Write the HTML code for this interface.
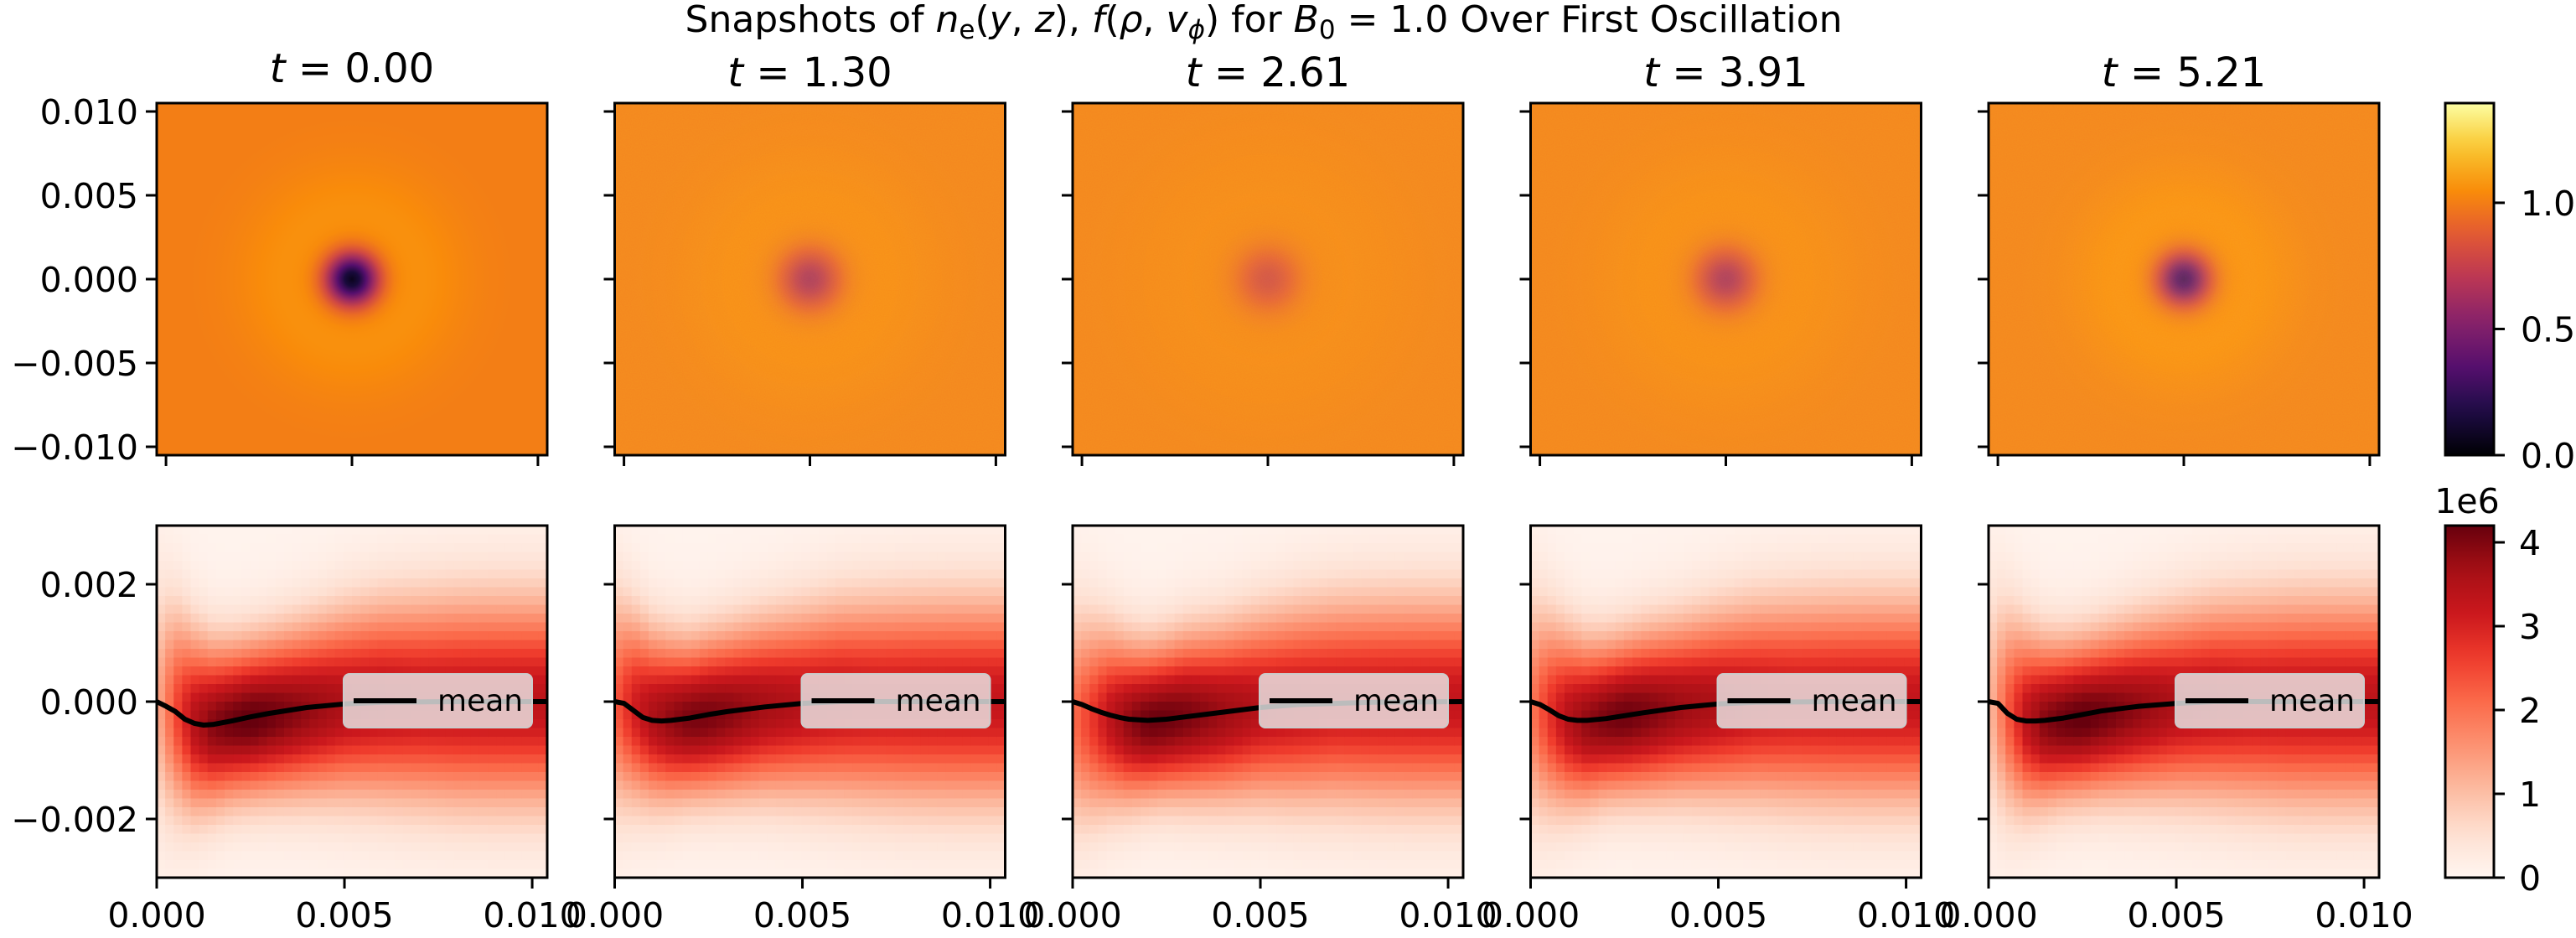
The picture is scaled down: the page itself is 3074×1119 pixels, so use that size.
<!DOCTYPE html>
<html><head><meta charset="utf-8"><style>
html,body{margin:0;padding:0;background:#fff;}
svg{display:block;font-family:"DejaVu Sans","Liberation Sans",sans-serif;}
</style></head><body>
<svg id="fig" width="3074" height="1119" viewBox="0 0 3074 1119" xmlns="http://www.w3.org/2000/svg">
<defs id="defs"></defs>
<text x="1508" y="38" font-size="44" text-anchor="middle">Snapshots of <tspan font-style="italic">n</tspan><tspan font-size="31" dy="8">e</tspan><tspan dy="-8">(</tspan><tspan font-style="italic">y</tspan>, <tspan font-style="italic">z</tspan>), <tspan font-style="italic">f</tspan>(<tspan font-style="italic">ρ</tspan>, <tspan font-style="italic">v</tspan><tspan font-size="31" dy="8" font-style="italic">ϕ</tspan><tspan dy="-8">) for </tspan><tspan font-style="italic">B</tspan><tspan font-size="31" dy="8">0</tspan><tspan dy="-8"> = 1.0 Over First Oscillation</tspan></text>
<g id="plots"></g>
</svg>
<script>
// ---- data ----
const times = ["0.00", "1.30", "2.61", "3.91", "5.21"];
// top row: density dip at center (value of n_e at center) and radius (m)
const dipMin = [0.05, 0.62, 0.78, 0.62, 0.28];
const dipRadius = [0.0013, 0.0015, 0.0016, 0.0015, 0.0013];
const haloPeak = [1.06, 1.03, 1.02, 1.03, 1.05];
// bottom row: columns in rho (units 1e-3)
const colX = [0, 0.5, 1, 1.5, 2, 2.5, 3, 4, 5, 6, 7, 8, 9, 10.4];
const peak = [
  [1.1, 2.4, 3.4, 3.9, 4.1, 4.2, 4.1, 3.8, 3.5, 3.4, 3.3, 3.3, 3.3, 3.3],
  [2.2, 3.0, 3.5, 3.8, 4.0, 4.0, 3.9, 3.6, 3.4, 3.3, 3.2, 3.2, 3.2, 3.2],
  [2.0, 2.6, 3.3, 3.8, 4.1, 4.1, 4.0, 3.7, 3.4, 3.3, 3.2, 3.2, 3.2, 3.2],
  [1.8, 2.7, 3.4, 3.8, 4.0, 4.1, 4.0, 3.7, 3.5, 3.3, 3.2, 3.2, 3.2, 3.2],
  [0.9, 2.2, 3.3, 3.9, 4.1, 4.2, 4.1, 3.8, 3.5, 3.4, 3.3, 3.3, 3.3, 3.3]
];
const center = [
  [0, -0.15, -0.35, -0.4, -0.35, -0.3, -0.25, -0.15, -0.05, 0, 0, 0, 0, 0],
  [0, -0.1, -0.25, -0.3, -0.3, -0.25, -0.2, -0.1, -0.05, 0, 0, 0, 0, 0],
  [-0.3, -0.3, -0.3, -0.35, -0.35, -0.3, -0.25, -0.2, -0.1, -0.05, 0, 0, 0, 0],
  [-0.1, -0.2, -0.3, -0.35, -0.3, -0.25, -0.2, -0.12, -0.05, 0, 0, 0, 0, 0],
  [0, -0.15, -0.3, -0.35, -0.32, -0.28, -0.22, -0.12, -0.05, 0, 0, 0, 0, 0]
];
const sigma = [
  [1.3, 1.15, 1.0, 0.9, 0.86, 0.86, 0.88, 0.94, 1.02, 1.08, 1.12, 1.15, 1.16, 1.16],
  [1.2, 1.05, 0.95, 0.9, 0.86, 0.88, 0.9, 0.96, 1.02, 1.08, 1.12, 1.14, 1.15, 1.15],
  [1.2, 1.1, 0.98, 0.9, 0.85, 0.86, 0.9, 0.95, 1.02, 1.08, 1.12, 1.14, 1.15, 1.15],
  [1.25, 1.1, 0.98, 0.9, 0.86, 0.87, 0.9, 0.95, 1.02, 1.08, 1.12, 1.14, 1.15, 1.15],
  [1.3, 1.15, 1.0, 0.9, 0.86, 0.86, 0.88, 0.95, 1.02, 1.08, 1.12, 1.15, 1.16, 1.16]
];
// mean curve (x and y in units 1e-3)
const meanX = [0, 0.25, 0.5, 0.75, 1, 1.25, 1.5, 2, 2.5, 3, 4, 5, 6, 8, 10.4];
const meanY = [
  [0, -0.08, -0.17, -0.3, -0.37, -0.4, -0.39, -0.33, -0.26, -0.2, -0.1, -0.04, -0.01, 0, 0],
  [0, -0.03, -0.15, -0.27, -0.32, -0.33, -0.32, -0.28, -0.22, -0.17, -0.09, -0.03, 0, 0, 0],
  [0, -0.05, -0.12, -0.18, -0.23, -0.27, -0.3, -0.32, -0.3, -0.26, -0.18, -0.1, -0.05, -0.01, 0],
  [0, -0.05, -0.14, -0.24, -0.3, -0.32, -0.32, -0.29, -0.24, -0.19, -0.1, -0.04, -0.01, 0, 0],
  [0, -0.03, -0.2, -0.3, -0.33, -0.33, -0.32, -0.28, -0.22, -0.16, -0.08, -0.03, 0, 0, 0]
];
const topYTicks = [0.010, 0.005, 0.000, -0.005, -0.010];
const topYLabels = ["0.010", "0.005", "0.000", "\u22120.005", "\u22120.010"];
const topXTicks = [-0.01, 0, 0.01];
const botYTicks = [0.002, 0, -0.002];
const botYLabels = ["0.002", "0.000", "\u22120.002"];
const botXTicks = [0, 0.005, 0.010];
const botXLabels = ["0.000", "0.005", "0.010"];
const cb1Ticks = [0, 0.5, 1.0];
const cb1Labels = ["0.0", "0.5", "1.0"];
const cb2Ticks = [0, 1, 2, 3, 4];
const cb2Labels = ["0", "1", "2", "3", "4"];

// ---- layout ----
const NS = "http://www.w3.org/2000/svg";
const panelLeft0 = 187, panelStep = 546.5, PW = 466;
const topY0 = 123, topY1 = 543, botY0 = 627, botY1 = 1047;
const topLim = 0.0105, botXMax = 0.0104, botYLim = 0.003;
const vmax1 = 1.395, vmax2 = 4.2;
const cbX = 2918, cbW = 58;

const inferno = [[0,0,0,4],[0.13,31,12,72],[0.25,85,15,109],[0.38,136,34,106],[0.5,186,54,85],[0.63,227,89,51],[0.75,249,140,10],[0.88,249,201,50],[1,252,255,164]];
const reds = [[0,255,245,240],[0.125,254,224,210],[0.25,252,187,161],[0.375,252,146,114],[0.5,251,106,74],[0.625,239,59,44],[0.75,203,24,29],[0.875,165,15,21],[1,103,0,13]];
function cmap(stops, t){
  t = Math.max(0, Math.min(1, t));
  for (let i = 1; i < stops.length; i++) {
    if (t <= stops[i][0]) {
      const a = stops[i-1], b = stops[i], f = (t - a[0]) / (b[0] - a[0]);
      return "rgb(" + [1,2,3].map(k => Math.round(a[k] + (b[k]-a[k])*f)).join(",") + ")";
    }
  }
  const l = stops[stops.length-1]; return "rgb(" + l[1] + "," + l[2] + "," + l[3] + ")";
}
function el(tag, attrs, parent){
  const e = document.createElementNS(NS, tag);
  for (const k in attrs) e.setAttribute(k, attrs[k]);
  (parent || plots).appendChild(e);
  return e;
}
const plots = document.getElementById("plots");
const defs = document.getElementById("defs");
function interp(xs, ys, x){
  if (x <= xs[0]) return ys[0];
  for (let i = 1; i < xs.length; i++) if (x <= xs[i]) { const f = (x - xs[i-1])/(xs[i]-xs[i-1]); return ys[i-1] + (ys[i]-ys[i-1])*f; }
  return ys[ys.length-1];
}

// noise filter
const flt = el("filter", {id: "noise", x: 0, y: 0, width: 1, height: 1}, defs);
el("feTurbulence", {type: "fractalNoise", baseFrequency: 0.9, numOctaves: 1, seed: 3}, flt);
el("feColorMatrix", {type: "matrix", values: "0 0 0 0 1  0 0 0 0.6 0.35  0 0 0 0 0.1  0 0 0 0 0.5"}, flt);

for (let p = 0; p < times.length; p++) {
  const L = panelLeft0 + panelStep * p;
  const tx = v => L + (v + topLim) / (2*topLim) * PW;
  const ty = v => topY0 + (topLim - v) / (2*topLim) * (topY1 - topY0);
  const bx = v => L + v / botXMax * PW;
  const by = v => botY0 + (botYLim - v) / (2*botYLim) * (botY1 - botY0);

  const tt = el("text", {x: L + PW/2, y: p === 0 ? 98 : 103, "font-size": 48, "text-anchor": "middle"});
  
  
  tt.innerHTML = '<tspan font-style="italic">t</tspan> = ' + times[p];

  const gid = "rg" + p;
  const g = el("radialGradient", {id: gid, cx: tx(0), cy: ty(0), r: (tx(topLim) - tx(0)) * 1.45, gradientUnits: "userSpaceOnUse"}, defs);
  const Rtot = topLim * 1.45;
  for (let i = 0; i <= 40; i++) {
    const r = Rtot * i / 40;
    const v = 1 - (1 - dipMin[p]) * Math.exp(-Math.pow(r / dipRadius[p], 2)) + (haloPeak[p] - 1) * Math.exp(-Math.pow((r - 2.6*dipRadius[p]) / (2.2*dipRadius[p]), 2));
    el("stop", {offset: (i/40).toFixed(3), "stop-color": cmap(inferno, v / vmax1)}, g);
  }
  const th = el("rect", {x: L, y: topY0, width: PW, height: topY1 - topY0, fill: "url(#" + gid + ")"});
  
  
  if (p > 0) {
    const nz = el("rect", {x: L, y: topY0, width: PW, height: topY1 - topY0, fill: "#fff", filter: "url(#noise)", opacity: 0.3});
    
    
  }
  const tf = el("rect", {x: L, y: topY0, width: PW, height: topY1 - topY0, fill: "none", stroke: "#000", "stroke-width": 3});
  
  
  topYTicks.forEach((v, i) => {
    const tk = el("line", {x1: L - 13, x2: L, y1: ty(v), y2: ty(v), stroke: "#000", "stroke-width": 3});
    
    
    if (p === 0) {
      const lb = el("text", {x: L - 22, y: ty(v) + 15, "font-size": 41, "text-anchor": "end"});
      
      
      lb.textContent = topYLabels[i];
    }
  });
  topXTicks.forEach(v => {
    const tk = el("line", {x1: tx(v), x2: tx(v), y1: topY1, y2: topY1 + 13, stroke: "#000", "stroke-width": 3});
    
    
  });

  const nx = 46, ny = 40;
  const cw = PW / nx, ch = (botY1 - botY0) / ny;
  for (let i = 0; i < nx; i++) {
    const xm = (i + 0.5) / nx * botXMax * 1000;
    const pk = interp(colX, peak[p], xm), c = interp(colX, center[p], xm), s = interp(colX, sigma[p], xm);
    for (let j = 0; j < ny; j++) {
      const ym = (botYLim - (j + 0.5) / ny * 2 * botYLim) * 1000;
      const v = pk * Math.exp(-0.5 * Math.pow((ym - c) / s, 2)) + 0.05;
      const cell = el("rect", {x: (L + i*cw).toFixed(2), y: (botY0 + j*ch).toFixed(2), width: (cw + 0.6).toFixed(2), height: (ch + 0.6).toFixed(2), fill: cmap(reds, v / vmax2)});
      
      
    }
  }
  const pts = meanX.map((x, k) => bx(x / 1000).toFixed(1) + "," + by(meanY[p][k] / 1000).toFixed(1)).join(" ");
  const ml = el("polyline", {points: pts, fill: "none", stroke: "#000", "stroke-width": 6, "stroke-linejoin": "round"});
  
  
  const lg = el("rect", {x: L + 223, y: 804, width: 225, height: 64, rx: 7, fill: "rgba(235,235,235,0.8)", stroke: "#ccc", "stroke-width": 2});
  
  
  const ll = el("line", {x1: L + 235, x2: L + 310, y1: 836, y2: 836, stroke: "#000", "stroke-width": 6});
  
  
  const lt = el("text", {x: L + 335, y: 848, "font-size": 36});
  
  
  lt.textContent = "mean";

  const bf = el("rect", {x: L, y: botY0, width: PW, height: botY1 - botY0, fill: "none", stroke: "#000", "stroke-width": 3});
  
  
  botYTicks.forEach((v, i) => {
    const tk = el("line", {x1: L - 13, x2: L, y1: by(v), y2: by(v), stroke: "#000", "stroke-width": 3});
    
    
    if (p === 0) {
      const lb = el("text", {x: L - 22, y: by(v) + 15, "font-size": 41, "text-anchor": "end"});
      
      
      lb.textContent = botYLabels[i];
    }
  });
  botXTicks.forEach((v, i) => {
    const tk = el("line", {x1: bx(v), x2: bx(v), y1: botY1, y2: botY1 + 13, stroke: "#000", "stroke-width": 3});
    
    
    const lb = el("text", {x: bx(v), y: 1106, "font-size": 41, "text-anchor": "middle"});
    
    
    lb.textContent = botXLabels[i];
  });
}

const g1 = el("linearGradient", {id: "cbinf", x1: 0, y1: 1, x2: 0, y2: 0}, defs);
for (let i = 0; i <= 20; i++) el("stop", {offset: i/20, "stop-color": cmap(inferno, i/20)}, g1);
const g2 = el("linearGradient", {id: "cbred", x1: 0, y1: 1, x2: 0, y2: 0}, defs);
for (let i = 0; i <= 20; i++) el("stop", {offset: i/20, "stop-color": cmap(reds, i/20)}, g2);

const c1 = el("rect", {x: cbX, y: topY0, width: cbW, height: topY1 - topY0, fill: "url(#cbinf)", stroke: "#000", "stroke-width": 3});


cb1Ticks.forEach((v, i) => {
  const y = topY1 - v / vmax1 * (topY1 - topY0);
  const tk = el("line", {x1: cbX + cbW, x2: cbX + cbW + 13, y1: y, y2: y, stroke: "#000", "stroke-width": 3});
  
  
  const lb = el("text", {x: cbX + cbW + 32, y: y + 15, "font-size": 41});
  
  
  lb.textContent = cb1Labels[i];
});
const c2 = el("rect", {x: cbX, y: botY0, width: cbW, height: botY1 - botY0, fill: "url(#cbred)", stroke: "#000", "stroke-width": 3});


cb2Ticks.forEach((v, i) => {
  const y = botY1 - v / vmax2 * (botY1 - botY0);
  const tk = el("line", {x1: cbX + cbW, x2: cbX + cbW + 13, y1: y, y2: y, stroke: "#000", "stroke-width": 3});
  
  
  const lb = el("text", {x: cbX + cbW + 30, y: y + 15, "font-size": 41});
  
  
  lb.textContent = cb2Labels[i];
});
const off = el("text", {x: cbX + 26, y: 612, "font-size": 41, "text-anchor": "middle"});


off.textContent = "1e6";
</script>
</body></html>
